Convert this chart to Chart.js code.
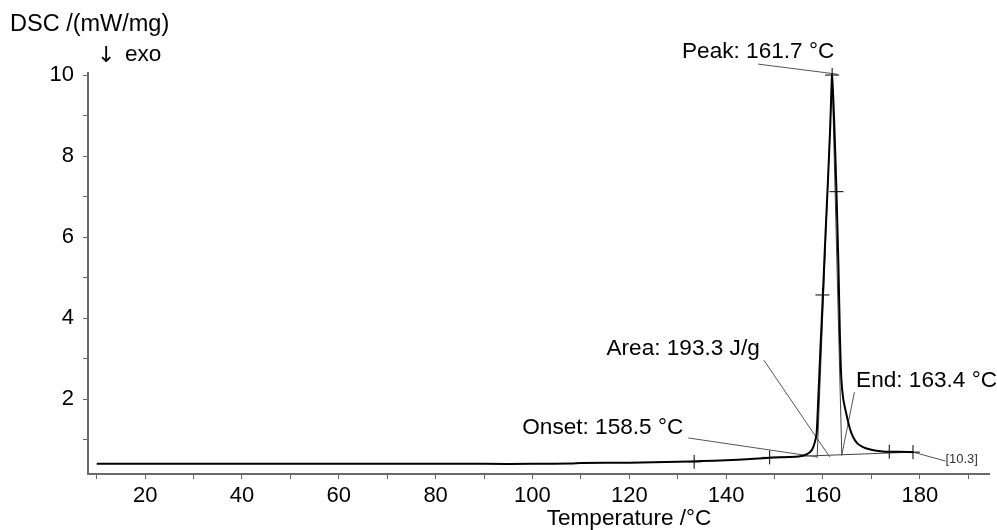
<!DOCTYPE html>
<html>
<head>
<meta charset="utf-8">
<script src="https://cdn.jsdelivr.net/npm/chart.js@4.4.1/dist/chart.umd.min.js"></script>
<style>
  html, body { margin: 0; padding: 0; background: #fff; }
  #wrap { width: 997px; height: 530px; }
</style>
</head>
<body>
<div id="wrap"><canvas id="dscChart"></canvas></div>
<script>
// DSC curve
const temperature = [10, 20, 30, 40, 50, 60, 70, 80, 90, 100, 108, 110, 120, 125, 130, 135, 140, 145, 150, 153, 155.3, 156.7, 157.7, 158.3, 158.7, 159.0, 159.5, 160.0, 160.5, 161.0, 161.5, 161.9, 162.4, 162.8, 163.2, 163.5, 163.8, 164.2, 164.8, 165.5, 166.2, 167, 168, 169, 170, 171.5, 173, 176, 178.6];
const dscSignal   = [0.40, 0.40, 0.40, 0.40, 0.40, 0.40, 0.40, 0.40, 0.40, 0.40, 0.41, 0.42, 0.43, 0.44, 0.45, 0.47, 0.49, 0.52, 0.56, 0.57, 0.59, 0.64, 0.74, 0.92, 1.16, 1.9, 3.3, 4.6, 6.0, 7.3, 8.7, 10.0, 8.6, 7.1, 5.3, 3.6, 2.5, 2.0, 1.65, 1.3, 1.07, 0.92, 0.83, 0.78, 0.75, 0.72, 0.70, 0.70, 0.69];

const xTickValues = [10, 20, 30, 40, 50, 60, 70, 80, 90, 100, 110, 120, 130, 140, 150, 160, 170, 180, 190];
const yTickValues = [1, 2, 3, 4, 5, 6, 7, 8, 9, 10];

// evaluation markers (crosses) on the curve
const markerTemp = [133.4, 149.0, 159.9, 161.9, 162.8, 173.7, 178.6];
const markerDsc  = [0.45, 0.56, 4.57, 10.0, 7.12, 0.70, 0.69];

// evaluation labels (left edge / baseline) and their leader lines, in data units
const labelText  = ['Peak: 161.7 °C', 'Area: 193.3 J/g', 'End: 163.4 °C', 'Onset: 158.5 °C'];
const labelTemp  = [130.9, 115.3, 166.85, 97.9];
const labelDsc   = [10.43, 3.09, 2.30, 1.13];
const leaderFrom = [[146.6, 10.27], [147.8, 2.96], [166.5, 2.17], [132.2, 1.04], [178.6, 0.69]];
const leaderTo   = [[163.0, 10.02], [161.4, 0.57], [163.9, 0.62], [158.8, 0.57], [185.3, 0.47]];

// construction lines: tangents and integration baseline
const constructionLines = [
    [[158.8, 0.55], [161.9, 10.0]],
    [[161.9, 10.0], [163.9, 0.60]],
    [[149.0, 0.56], [178.6, 0.69]]
];

const FONT = 'Arial, "Liberation Sans", sans-serif';

document.addEventListener('DOMContentLoaded', () => {
    const ctx = document.getElementById('dscChart');

    const thinSets = [];
    leaderFrom.forEach((p, i) => {
        thinSets.push({
            data: [{ x: p[0], y: p[1] }, { x: leaderTo[i][0], y: leaderTo[i][1] }],
            borderColor: '#555',
            borderWidth: 1,
            pointRadius: 0,
            clip: false
        });
    });
    constructionLines.forEach(seg => {
        thinSets.push({
            data: seg.map(p => ({ x: p[0], y: p[1] })),
            borderColor: '#444',
            borderWidth: 1,
            pointRadius: 0,
            clip: false
        });
    });

    // text that is not part of the axes
    const textPlugin = {
        id: 'dscText',
        afterDraw(chart) {
            const c = chart.ctx;
            const xs = chart.scales.x;
            const ys = chart.scales.y;
            c.save();
            c.fillStyle = '#000';
            c.font = '22.6px ' + FONT;
            c.textBaseline = 'alphabetic';
            c.textAlign = 'left';
            labelText.forEach((t, i) => {
                c.fillText(t, xs.getPixelForValue(labelTemp[i]), ys.getPixelForValue(labelDsc[i]));
            });
            c.font = '23.5px ' + FONT;
            c.fillText('DSC /(mW/mg)', 10, 31);
            c.font = '22px "DejaVu Sans", sans-serif';
            c.fillText('↓', 97, 62);
            c.font = '22.6px ' + FONT;
            c.fillText('exo', 125, 61);
            c.textAlign = 'center';
            c.fillText('Temperature /°C', 629, 525);
            c.font = '13px ' + FONT;
            c.textAlign = 'left';
            c.fillStyle = '#333';
            c.fillText('[10.3]', xs.getPixelForValue(185.3), ys.getPixelForValue(0.47) + 2);
            c.restore();
        }
    };

    new Chart(ctx, {
        type: 'line',
        data: {
            datasets: [
                {
                    data: temperature.map((t, i) => ({ x: t, y: dscSignal[i] })),
                    borderColor: '#000',
                    borderWidth: 2,
                    pointRadius: 0,
                    tension: 0.2,
                    clip: false
                },
                {
                    type: 'scatter',
                    data: markerTemp.map((t, i) => ({ x: t, y: markerDsc[i] })),
                    pointStyle: 'cross',
                    pointRadius: 7,
                    borderColor: '#000',
                    borderWidth: 1,
                    clip: false
                },
                ...thinSets
            ]
        },
        options: {
            responsive: true,
            maintainAspectRatio: false,
            animation: false,
            layout: { padding: { top: 73, right: 7, left: 0, bottom: 0 } },
            plugins: {
                legend: { display: false },
                tooltip: { enabled: false }
            },
            scales: {
                x: {
                    type: 'linear',
                    min: 8.2,
                    max: 194.3,
                    afterBuildTicks: axis => { axis.ticks = xTickValues.map(v => ({ value: v })); },
                    afterFit: axis => { axis.height = 56; },
                    grid: { drawOnChartArea: false, drawTicks: true, tickLength: 5, color: '#666', lineWidth: 1 },
                    border: { color: '#6a6a6a', width: 2 },
                    ticks: {
                        color: '#000',
                        padding: 4,
                        maxRotation: 0,
                        autoSkip: false,
                        font: { family: FONT, size: 22 },
                        callback: v => (v % 20 === 0 ? String(v) : '')
                    }
                },
                y: {
                    type: 'linear',
                    min: 0.15,
                    max: 10.05,
                    afterBuildTicks: axis => { axis.ticks = yTickValues.map(v => ({ value: v })); },
                    afterFit: axis => { axis.width = 88; },
                    grid: { drawOnChartArea: false, drawTicks: true, tickLength: 5, color: '#666', lineWidth: 1 },
                    border: { color: '#6a6a6a', width: 2 },
                    ticks: {
                        color: '#000',
                        padding: 9,
                        autoSkip: false,
                        font: { family: FONT, size: 22 },
                        callback: v => (v % 2 === 0 ? String(v) : '')
                    }
                }
            }
        },
        plugins: [textPlugin]
    });
});
</script>
</body>
</html>
